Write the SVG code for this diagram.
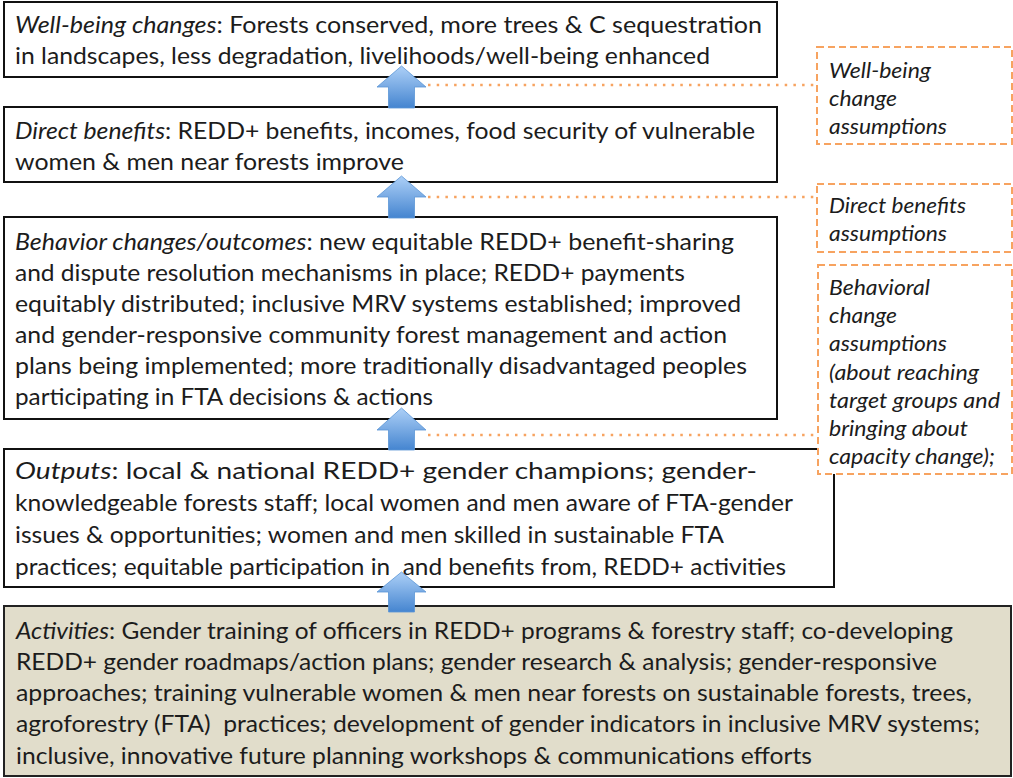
<svg xmlns="http://www.w3.org/2000/svg" width="1013" height="778" viewBox="0 0 1013 778">
<style>
.box{fill:#ffffff;stroke:#111111;stroke-width:2}
.act{fill:#e1ddcb;stroke:#222222;stroke-width:2}
.asm{fill:#ffffff;stroke:#f7a360;stroke-width:2;stroke-dasharray:7 4}
.t{font-family:Lato,"Open Sans","Liberation Sans",sans-serif;font-size:23px;fill:#1c1c1c}
.a{font-family:Lato,"Open Sans","Liberation Sans",sans-serif;font-size:21px;font-style:italic;fill:#1c1c1c}
.i{font-style:italic}
.dot{fill:none;stroke:#f7a360;stroke-width:2.5;stroke-dasharray:2.5 6.2}
.arr{fill:url(#blue);stroke:#5b95d6;stroke-width:0.8}
</style>
<defs>
<linearGradient id="blue" x1="0" y1="0" x2="0" y2="1">
<stop offset="0" stop-color="#add0f7"/>
<stop offset="1" stop-color="#4585d0"/>
</linearGradient>
</defs>
<g id="wellbeing">
<rect class="box" x="4" y="2" width="773" height="75"/>
<text class="t" x="15" y="33" textLength="747" lengthAdjust="spacingAndGlyphs"><tspan class="i">Well-being changes</tspan>: Forests conserved, more trees &amp; C sequestration</text>
<text class="t" x="15" y="64" textLength="695" lengthAdjust="spacingAndGlyphs">in landscapes, less degradation, livelihoods/well-being enhanced</text>
</g>
<g id="direct">
<rect class="box" x="4" y="107" width="773" height="75"/>
<text class="t" x="15" y="139" textLength="740" lengthAdjust="spacingAndGlyphs"><tspan class="i">Direct benefits</tspan>: REDD+ benefits, incomes, food security of vulnerable</text>
<text class="t" x="15" y="170" textLength="389" lengthAdjust="spacingAndGlyphs">women &amp; men near forests improve</text>
</g>
<g id="behavior">
<rect class="box" x="4" y="217" width="773" height="202"/>
<text class="t" x="15" y="250" textLength="719" lengthAdjust="spacingAndGlyphs"><tspan class="i">Behavior changes/outcomes</tspan>: new equitable REDD+ benefit-sharing</text>
<text class="t" x="15" y="281" textLength="670" lengthAdjust="spacingAndGlyphs">and dispute resolution mechanisms in place; REDD+ payments</text>
<text class="t" x="15" y="312" textLength="726" lengthAdjust="spacingAndGlyphs">equitably distributed; inclusive MRV systems established; improved</text>
<text class="t" x="15" y="343" textLength="712" lengthAdjust="spacingAndGlyphs">and gender-responsive community forest management and action</text>
<text class="t" x="15" y="374" textLength="732" lengthAdjust="spacingAndGlyphs">plans being implemented; more traditionally disadvantaged peoples</text>
<text class="t" x="15" y="405" textLength="418" lengthAdjust="spacingAndGlyphs">participating in FTA decisions &amp; actions</text>
</g>
<g id="outputs">
<rect class="box" x="4" y="449" width="830" height="138"/>
<text class="t" x="15" y="479" textLength="742" lengthAdjust="spacingAndGlyphs"><tspan class="i">Outputs</tspan>: local &amp; national REDD+ gender champions; gender-</text>
<text class="t" x="15" y="511" textLength="778" lengthAdjust="spacingAndGlyphs">knowledgeable forests staff; local women and men aware of FTA-gender</text>
<text class="t" x="15" y="543" textLength="709" lengthAdjust="spacingAndGlyphs">issues &amp; opportunities; women and men skilled in sustainable FTA</text>
<text class="t" x="15" y="575" textLength="771" lengthAdjust="spacingAndGlyphs" xml:space="preserve">practices; equitable participation in  and benefits from, REDD+ activities</text>
</g>
<g id="activities">
<rect class="act" x="4" y="606" width="1007" height="170"/>
<text class="t" x="16" y="639" textLength="937" lengthAdjust="spacingAndGlyphs"><tspan class="i">Activities</tspan>: Gender training of officers in REDD+ programs &amp; forestry staff; co-developing</text>
<text class="t" x="16" y="670" textLength="921" lengthAdjust="spacingAndGlyphs">REDD+ gender roadmaps/action plans; gender research &amp; analysis; gender-responsive</text>
<text class="t" x="16" y="701" textLength="956" lengthAdjust="spacingAndGlyphs">approaches; training vulnerable women &amp; men near forests on sustainable forests, trees,</text>
<text class="t" x="16" y="732" textLength="964" lengthAdjust="spacingAndGlyphs" xml:space="preserve">agroforestry (FTA)  practices; development of gender indicators in inclusive MRV systems;</text>
<text class="t" x="16" y="764" textLength="796" lengthAdjust="spacingAndGlyphs">inclusive, innovative future planning workshops &amp; communications efforts</text>
</g>
<g id="wellbeing-assumptions">
<rect class="asm" x="817" y="47" width="195" height="97"/>
<text class="a" x="829" y="78" textLength="102" lengthAdjust="spacingAndGlyphs">Well-being</text>
<text class="a" x="829" y="106" textLength="68" lengthAdjust="spacingAndGlyphs">change</text>
<text class="a" x="829" y="134" textLength="118" lengthAdjust="spacingAndGlyphs">assumptions</text>
</g>
<g id="direct-assumptions">
<rect class="asm" x="817" y="184" width="195" height="68"/>
<text class="a" x="829" y="213" textLength="137" lengthAdjust="spacingAndGlyphs">Direct benefits</text>
<text class="a" x="829" y="241" textLength="118" lengthAdjust="spacingAndGlyphs">assumptions</text>
</g>
<g id="behavior-assumptions">
<rect class="asm" x="818" y="265" width="194" height="209"/>
<text class="a" x="829" y="295" textLength="101" lengthAdjust="spacingAndGlyphs">Behavioral</text>
<text class="a" x="829" y="323" textLength="68" lengthAdjust="spacingAndGlyphs">change</text>
<text class="a" x="829" y="351" textLength="118" lengthAdjust="spacingAndGlyphs">assumptions</text>
<text class="a" x="829" y="380" textLength="150" lengthAdjust="spacingAndGlyphs">(about reaching</text>
<text class="a" x="829" y="408" textLength="171" lengthAdjust="spacingAndGlyphs">target groups and</text>
<text class="a" x="829" y="436" textLength="139" lengthAdjust="spacingAndGlyphs">bringing about</text>
<text class="a" x="829" y="464" textLength="166" lengthAdjust="spacingAndGlyphs">capacity change);</text>
</g>
<g id="connectors">
<path class="dot" d="M428 85 H816"/>
<path class="dot" d="M428 197 H816"/>
<path class="dot" d="M428 435 H817"/>
<path class="arr" d="M401.5 66 L426 87 L414.5 87 L414.5 108 L388.5 108 L388.5 87 L377 87 Z"/>
<path class="arr" d="M401.5 176 L426 197 L414.5 197 L414.5 218 L388.5 218 L388.5 197 L377 197 Z"/>
<path class="arr" d="M401.5 408 L426 430 L414.5 430 L414.5 450 L388.5 450 L388.5 430 L377 430 Z"/>
<path class="arr" d="M401.5 572 L426 592 L414.5 592 L414.5 612 L388.5 612 L388.5 592 L377 592 Z"/>
</g>
</svg>
